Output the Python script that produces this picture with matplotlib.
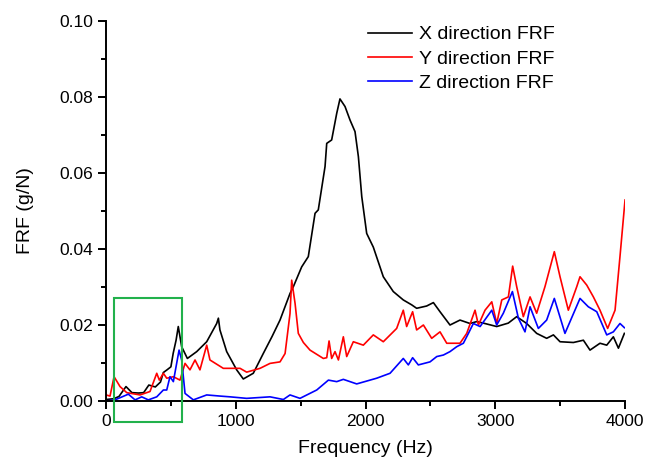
import matplotlib
matplotlib.use("Agg")
import matplotlib.pyplot as plt
from matplotlib.patches import Rectangle
from matplotlib.ticker import MultipleLocator

plt.rcParams["font.family"] = ["Liberation Sans", "DejaVu Sans"]

# Frequency response functions (Hz, g/N)
x_freq = [0, 60, 100, 154, 200, 250, 290, 330, 380, 420, 442, 470, 500, 518,
          540, 557, 583, 627, 699, 776, 853, 866, 878, 930, 1007, 1058, 1135,
          1212, 1280, 1341, 1418, 1444, 1508, 1559, 1611, 1636, 1688, 1701,
          1739, 1778, 1803, 1842, 1881, 1919, 1945, 1971, 2009, 2060, 2137,
          2214, 2291, 2356, 2394, 2471, 2523, 2574, 2651, 2728, 2805, 2857,
          2908, 3011, 3100, 3165, 3242, 3319, 3396, 3448, 3499, 3602, 3679,
          3730, 3807, 3859, 3910, 3949, 3995]
x_frf = [0.0004, 0.0006, 0.0012, 0.0038, 0.0022, 0.0021, 0.0022, 0.0042,
         0.0037, 0.005, 0.0075, 0.0082, 0.009, 0.0126, 0.016, 0.0196, 0.0143,
         0.0112, 0.013, 0.0156, 0.0204, 0.0218, 0.0187, 0.013, 0.0082, 0.0058,
         0.0073, 0.0125, 0.017, 0.0213, 0.0283, 0.0301, 0.0353, 0.038, 0.0494,
         0.0503, 0.0617, 0.0678, 0.0687, 0.0757, 0.0795, 0.0775, 0.0739,
         0.0709, 0.0643, 0.0538, 0.0441, 0.0405, 0.0327, 0.0288, 0.0266,
         0.0253, 0.0244, 0.025, 0.0259, 0.0235, 0.02, 0.0213, 0.0204, 0.0209,
         0.0205, 0.0196, 0.0205, 0.0222, 0.0204, 0.0178, 0.0165, 0.0174,
         0.0156, 0.0154, 0.016, 0.0134, 0.0152, 0.0147, 0.0169, 0.0139, 0.0178]

y_freq = [0, 31, 62, 108, 160, 262, 339, 391, 411, 442, 468, 519, 570, 609,
          647, 686, 724, 776, 801, 904, 1033, 1084, 1187, 1264, 1341, 1380,
          1418, 1431, 1457, 1482, 1521, 1572, 1675, 1701, 1719, 1739, 1765,
          1791, 1829, 1855, 1906, 1983, 2060, 2137, 2240, 2291, 2317, 2363,
          2394, 2446, 2510, 2574, 2626, 2728, 2780, 2844, 2870, 2921, 2973,
          3011, 3050, 3101, 3134, 3165, 3216, 3268, 3319, 3383, 3455, 3499,
          3563, 3628, 3653, 3705, 3756, 3807, 3866, 3923, 3961, 4000]
y_frf = [0.0016, 0.0013, 0.0064, 0.0038, 0.0022, 0.0016, 0.0025, 0.0073,
         0.0055, 0.0073, 0.006, 0.0064, 0.0055, 0.0099, 0.0082, 0.0108, 0.0082,
         0.0147, 0.0108, 0.0086, 0.0086, 0.0076, 0.0086, 0.0099, 0.0103,
         0.0125, 0.023, 0.0318, 0.0257, 0.0178, 0.0154, 0.0134, 0.0112, 0.0114,
         0.0158, 0.0112, 0.013, 0.0108, 0.0169, 0.0117, 0.0156, 0.0147, 0.0174,
         0.0156, 0.0191, 0.0239, 0.0196, 0.0235, 0.0187, 0.02, 0.0165, 0.0182,
         0.0152, 0.0152, 0.0178, 0.0239, 0.02, 0.0239, 0.0261, 0.0204, 0.0266,
         0.0274, 0.0355, 0.0301, 0.0222, 0.0274, 0.0231, 0.0301, 0.0393,
         0.0327, 0.0239, 0.0301, 0.0327, 0.0305, 0.0274, 0.0239, 0.0191,
         0.0239, 0.038, 0.0529]

z_freq = [0, 69, 172, 224, 275, 326, 391, 442, 468, 493, 519, 563, 583, 609,
          673, 776, 879, 956, 1084, 1264, 1367, 1418, 1495, 1624, 1714, 1778,
          1829, 1932, 2086, 2189, 2291, 2330, 2363, 2407, 2497, 2549, 2600,
          2651, 2703, 2754, 2793, 2831, 2883, 2973, 3011, 3062, 3132, 3178,
          3229, 3268, 3332, 3396, 3455, 3537, 3653, 3717, 3782, 3859, 3910,
          3961, 3995]
z_frf = [0.0, 0.0003, 0.0018, 0.0003, 0.0011, 0.0003, 0.0011, 0.0029, 0.0029,
         0.0064, 0.0051, 0.0134, 0.0108, 0.002, 0.0003, 0.0016, 0.0013, 0.0011,
         0.0007, 0.0011, 0.0004, 0.0016, 0.0007, 0.0029, 0.0055, 0.0051,
         0.0057, 0.0045, 0.006, 0.0073, 0.0112, 0.0095, 0.0114, 0.0095, 0.0103,
         0.0117, 0.0121, 0.013, 0.0143, 0.0152, 0.0178, 0.0204, 0.0196, 0.0239,
         0.02, 0.0231, 0.0288, 0.0218, 0.0182, 0.0248, 0.0191, 0.0213, 0.027,
         0.0178, 0.027, 0.0248, 0.0235, 0.0174, 0.0182, 0.0204, 0.0193]

# highlighted low-frequency band
box_f0, box_f1 = 62, 582
box_y0, box_y1 = -0.0055, 0.0272

fig = plt.figure(figsize=(6.56, 4.65), dpi=100)
ax = fig.add_axes([0.1616, 0.1376, 0.7912, 0.8172])

ax.plot(x_freq, x_frf, color="black", lw=1.2, label="X direction FRF")
ax.plot(y_freq, y_frf, color="red", lw=1.2, label="Y direction FRF")
ax.plot(z_freq, z_frf, color="blue", lw=1.2, label="Z direction FRF")

ax.add_patch(Rectangle((box_f0, box_y0), box_f1 - box_f0, box_y1 - box_y0,
                       fill=False, edgecolor="#22b14c", lw=1.5, clip_on=False,
                       zorder=5))

ax.set_xlim(0, 4000)
ax.set_ylim(0, 0.10)
ax.xaxis.set_major_locator(MultipleLocator(1000))
ax.xaxis.set_minor_locator(MultipleLocator(500))
ax.yaxis.set_major_locator(MultipleLocator(0.02))
ax.yaxis.set_minor_locator(MultipleLocator(0.01))
ax.yaxis.set_major_formatter(plt.FormatStrFormatter("%.2f"))
ax.tick_params(which="major", direction="out", length=6, width=1.4,
               labelsize=12.5)
ax.tick_params(which="minor", direction="out", length=3.5, width=1.4)
for side in ("top", "right"):
    ax.spines[side].set_visible(False)
for side in ("left", "bottom"):
    ax.spines[side].set_linewidth(1.4)

ax.set_xlabel("Frequency (Hz)", fontsize=14, labelpad=8)
ax.set_ylabel("FRF (g/N)", fontsize=14, labelpad=18)

ax.legend(loc="upper left", bbox_to_anchor=(358 / 656, 1 - 16 / 465),
          bbox_transform=fig.transFigure, frameon=False, fontsize=14,
          handlelength=2.3, handletextpad=0.36, borderpad=0,
          labelspacing=0.35)

fig.savefig("out.png", dpi=100)
